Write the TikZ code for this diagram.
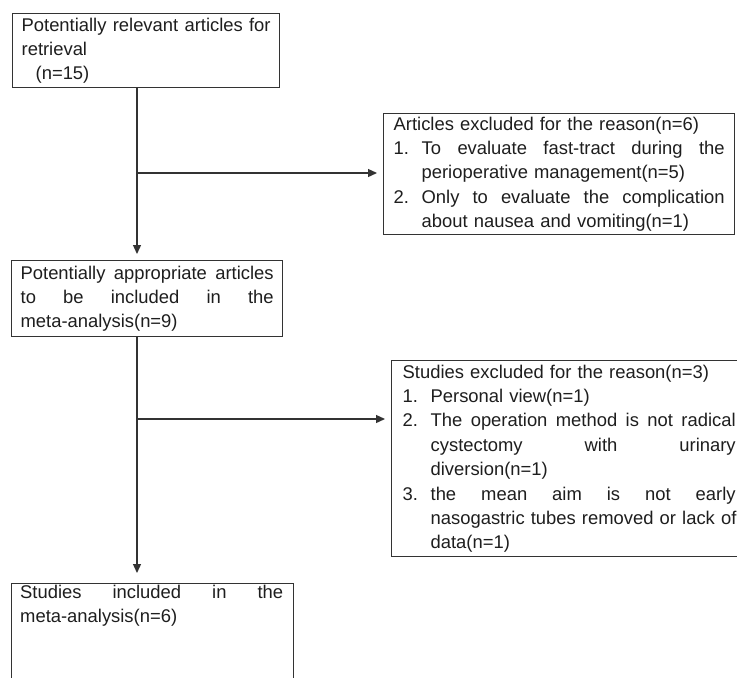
\documentclass[tikz,border=0pt]{standalone}
\usepackage{fontspec}
\setmainfont{Liberation Sans}
\usetikzlibrary{arrows.meta}
\definecolor{ln}{HTML}{333333}
\definecolor{tx}{HTML}{1E1E1E}
\newcommand\jl[2]{\leavevmode\hbox to #1{#2}}
\newcommand\num[1]{\makebox[28pt][l]{#1}}
\begin{document}
\begin{tikzpicture}[x=1pt,y=-1pt,
  box/.style={draw=ln, line width=1.3pt, rectangle, anchor=north west, inner ysep=0pt, inner xsep=9pt,
    align=left, text=tx, font=\fontsize{18.4}{24.4}\selectfont},
  txt/.style={anchor=north west, inner sep=0pt, align=left, text=tx, font=\fontsize{18.4}{24.4}\selectfont},
  arr/.style={draw=ln, line width=1.3pt, -{Triangle[length=9pt,width=8pt]}}]
\useasboundingbox (0,0) rectangle (737,678);
\clip (0,0) rectangle (737,678);
\fill[white] (0,0) rectangle (737,678);
% box 1
\node[box, minimum width=267pt, minimum height=74pt, text width=249pt] (b1) at (12,13)
 {\jl{249pt}{Potentially \hfill relevant \hfill articles \hfill for}\\retrieval\\\hspace*{14pt}(n=15)};
% box 2
\node[box, minimum width=271pt, minimum height=76pt, text width=253pt] (b2) at (11,260)
 {\jl{253pt}{Potentially \hfill appropriate \hfill articles}\\
  \jl{253pt}{to \hfill be \hfill included \hfill in \hfill the}\\meta-analysis(n=9)};
% box A
\node[box, inner xsep=10pt, minimum width=351pt, minimum height=121pt, text width=331pt] (bA) at (383,113)
 {Articles excluded for the reason(n=6)\\
  \num{1.}\jl{303pt}{To \hfill evaluate \hfill fast-tract \hfill during \hfill the}\\
  \hspace*{28pt}perioperative management(n=5)\\
  \num{2.}\jl{303pt}{Only \hfill to \hfill evaluate \hfill the \hfill complication}\\
  \hspace*{28pt}about nausea and vomiting(n=1)};
% box B
\node[box, inner xsep=10pt, minimum width=355pt, minimum height=196pt, text width=333pt] (bB) at (391,360)
 {Studies excluded for the reason(n=3)\\
  \num{1.}Personal view(n=1)\\
  \num{2.}\jl{305pt}{The \hfill operation \hfill method \hfill is \hfill not \hfill radical}\\
  \hspace*{28pt}\jl{305pt}{cystectomy \hfill with \hfill urinary}\\
  \hspace*{28pt}diversion(n=1)\\
  \num{3.}\jl{305pt}{the \hfill mean \hfill aim \hfill is \hfill not \hfill early}\\
  \hspace*{28pt}\jl{305pt}{nasogastric \hfill tubes \hfill removed \hfill or \hfill lack \hfill of}\\
  \hspace*{28pt}data(n=1)};
% box 3 (open at the bottom of the picture)
\node[box, minimum width=282pt, minimum height=130pt] (b3) at (11,583) {};
\node[txt, text width=263pt] (b3t) at (20,585)
 {\jl{263pt}{Studies \hfill included \hfill in \hfill the}\\meta-analysis(n=6)};
% connectors
\coordinate (j1) at (137,173);
\coordinate (j2) at (137,419);
\draw[arr, shorten >=6pt] (b1.south -| j1) -- (b2.north -| j1);
\draw[arr, shorten >=6pt] (j1) -- (bA.west |- j1);
\draw[arr, shorten >=10pt] (b2.south -| j2) -- (b3.north -| j2);
\draw[arr, shorten >=6pt] (j2) -- (bB.west |- j2);
\end{tikzpicture}
\end{document}
